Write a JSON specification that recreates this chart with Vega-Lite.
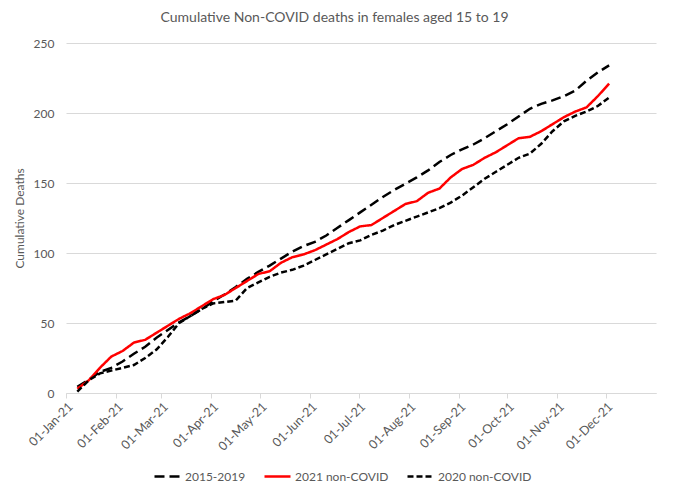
{
  "$schema": "https://vega.github.io/schema/vega-lite/v6.json",
  "width": 590,
  "height": 350,
  "autosize": {"type": "none"},
  "padding": {"left": 66, "top": 43, "right": 24, "bottom": 101},
  "background": "white",
  "title": {
    "text": "Cumulative Non-COVID deaths in females aged 15 to 19",
    "font": "Lato",
    "fontSize": 14,
    "fontWeight": "normal",
    "color": "#595959",
    "anchor": "middle",
    "frame": "bounds",
    "offset": 12
  },
  "config": {"view": {"stroke": null}},
  "data": {
    "values": [
      {"d": "2021-01-08", "2015-2019": 4.5, "2021 non-COVID": 3, "2020 non-COVID": 1},
      {"d": "2021-01-15", "2015-2019": 9.5, "2021 non-COVID": 9, "2020 non-COVID": 9},
      {"d": "2021-01-22", "2015-2019": 15, "2021 non-COVID": 18, "2020 non-COVID": 14},
      {"d": "2021-01-29", "2015-2019": 18, "2021 non-COVID": 26, "2020 non-COVID": 16},
      {"d": "2021-02-05", "2015-2019": 22.5, "2021 non-COVID": 30, "2020 non-COVID": 18},
      {"d": "2021-02-12", "2015-2019": 28, "2021 non-COVID": 36, "2020 non-COVID": 20},
      {"d": "2021-02-19", "2015-2019": 33, "2021 non-COVID": 38, "2020 non-COVID": 25},
      {"d": "2021-02-26", "2015-2019": 39.5, "2021 non-COVID": 43, "2020 non-COVID": 31},
      {"d": "2021-03-05", "2015-2019": 45, "2021 non-COVID": 48, "2020 non-COVID": 40},
      {"d": "2021-03-12", "2015-2019": 50.5, "2021 non-COVID": 53, "2020 non-COVID": 50},
      {"d": "2021-03-19", "2015-2019": 55, "2021 non-COVID": 57, "2020 non-COVID": 55},
      {"d": "2021-03-26", "2015-2019": 60, "2021 non-COVID": 62, "2020 non-COVID": 60},
      {"d": "2021-04-02", "2015-2019": 65.4, "2021 non-COVID": 67, "2020 non-COVID": 64},
      {"d": "2021-04-09", "2015-2019": 70.4, "2021 non-COVID": 70, "2020 non-COVID": 65},
      {"d": "2021-04-16", "2015-2019": 75.7, "2021 non-COVID": 75, "2020 non-COVID": 66},
      {"d": "2021-04-23", "2015-2019": 81.5, "2021 non-COVID": 80, "2020 non-COVID": 75},
      {"d": "2021-04-30", "2015-2019": 86.5, "2021 non-COVID": 85, "2020 non-COVID": 79},
      {"d": "2021-05-07", "2015-2019": 91, "2021 non-COVID": 87, "2020 non-COVID": 83},
      {"d": "2021-05-14", "2015-2019": 96, "2021 non-COVID": 93, "2020 non-COVID": 86},
      {"d": "2021-05-21", "2015-2019": 101, "2021 non-COVID": 97, "2020 non-COVID": 88},
      {"d": "2021-05-28", "2015-2019": 105, "2021 non-COVID": 99, "2020 non-COVID": 91},
      {"d": "2021-06-04", "2015-2019": 108, "2021 non-COVID": 102, "2020 non-COVID": 95},
      {"d": "2021-06-11", "2015-2019": 112.5, "2021 non-COVID": 106, "2020 non-COVID": 99},
      {"d": "2021-06-18", "2015-2019": 118, "2021 non-COVID": 110, "2020 non-COVID": 103},
      {"d": "2021-06-25", "2015-2019": 123.5, "2021 non-COVID": 115, "2020 non-COVID": 107},
      {"d": "2021-07-02", "2015-2019": 129, "2021 non-COVID": 119, "2020 non-COVID": 109},
      {"d": "2021-07-09", "2015-2019": 134.5, "2021 non-COVID": 120, "2020 non-COVID": 113},
      {"d": "2021-07-16", "2015-2019": 140, "2021 non-COVID": 125, "2020 non-COVID": 116},
      {"d": "2021-07-23", "2015-2019": 145, "2021 non-COVID": 130, "2020 non-COVID": 120},
      {"d": "2021-07-30", "2015-2019": 149.5, "2021 non-COVID": 135, "2020 non-COVID": 123},
      {"d": "2021-08-06", "2015-2019": 154, "2021 non-COVID": 137, "2020 non-COVID": 126},
      {"d": "2021-08-13", "2015-2019": 159, "2021 non-COVID": 143, "2020 non-COVID": 129},
      {"d": "2021-08-20", "2015-2019": 165, "2021 non-COVID": 146, "2020 non-COVID": 132},
      {"d": "2021-08-27", "2015-2019": 170, "2021 non-COVID": 154, "2020 non-COVID": 136},
      {"d": "2021-09-03", "2015-2019": 174, "2021 non-COVID": 160, "2020 non-COVID": 141},
      {"d": "2021-09-10", "2015-2019": 177.5, "2021 non-COVID": 163, "2020 non-COVID": 147},
      {"d": "2021-09-17", "2015-2019": 182, "2021 non-COVID": 168, "2020 non-COVID": 153},
      {"d": "2021-09-24", "2015-2019": 187, "2021 non-COVID": 172, "2020 non-COVID": 158},
      {"d": "2021-10-01", "2015-2019": 192, "2021 non-COVID": 177, "2020 non-COVID": 163},
      {"d": "2021-10-08", "2015-2019": 197.5, "2021 non-COVID": 182, "2020 non-COVID": 168},
      {"d": "2021-10-15", "2015-2019": 203, "2021 non-COVID": 183, "2020 non-COVID": 171},
      {"d": "2021-10-22", "2015-2019": 206.5, "2021 non-COVID": 187, "2020 non-COVID": 178},
      {"d": "2021-10-29", "2015-2019": 209, "2021 non-COVID": 192, "2020 non-COVID": 187},
      {"d": "2021-11-05", "2015-2019": 212, "2021 non-COVID": 197, "2020 non-COVID": 194},
      {"d": "2021-11-12", "2015-2019": 216, "2021 non-COVID": 201, "2020 non-COVID": 198},
      {"d": "2021-11-19", "2015-2019": 223, "2021 non-COVID": 204, "2020 non-COVID": 201},
      {"d": "2021-11-26", "2015-2019": 229, "2021 non-COVID": 212, "2020 non-COVID": 205},
      {"d": "2021-12-03", "2015-2019": 234, "2021 non-COVID": 221, "2020 non-COVID": 211}
    ]
  },
  "transform": [
    {"fold": ["2015-2019", "2021 non-COVID", "2020 non-COVID"], "as": ["series", "deaths"]}
  ],
  "mark": {"type": "line", "strokeWidth": 2.5, "strokeCap": "butt"},
  "encoding": {
    "x": {
      "field": "d",
      "type": "temporal",
      "scale": {
        "type": "utc",
        "domain": [
          {"year": 2021, "month": 1, "date": 1, "utc": true},
          {"year": 2022, "month": 1, "date": 1, "utc": true}
        ]
      },
      "axis": {
        "title": null,
        "format": "%d-%b-%y",
        "values": [
          {"year": 2021, "month": 1, "date": 1, "utc": true},
          {"year": 2021, "month": 2, "date": 1, "utc": true},
          {"year": 2021, "month": 3, "date": 1, "utc": true},
          {"year": 2021, "month": 4, "date": 1, "utc": true},
          {"year": 2021, "month": 5, "date": 1, "utc": true},
          {"year": 2021, "month": 6, "date": 1, "utc": true},
          {"year": 2021, "month": 7, "date": 1, "utc": true},
          {"year": 2021, "month": 8, "date": 1, "utc": true},
          {"year": 2021, "month": 9, "date": 1, "utc": true},
          {"year": 2021, "month": 10, "date": 1, "utc": true},
          {"year": 2021, "month": 11, "date": 1, "utc": true},
          {"year": 2021, "month": 12, "date": 1, "utc": true}
        ],
        "labelAngle": -45,
        "labelOverlap": false,
        "labelFont": "Lato",
        "labelFontSize": 12.5,
        "labelColor": "#595959",
        "labelPadding": 2,
        "domainColor": "#d9d9d9",
        "domainWidth": 1,
        "tickColor": "#d9d9d9",
        "tickSize": 5,
        "grid": false
      }
    },
    "y": {
      "field": "deaths",
      "type": "quantitative",
      "scale": {"domain": [0, 250], "nice": false},
      "axis": {
        "title": "Cumulative Deaths",
        "titleFont": "Lato",
        "titleFontSize": 12,
        "titleFontWeight": "normal",
        "titleColor": "#595959",
        "titlePadding": 7,
        "values": [0, 50, 100, 150, 200, 250],
        "labelFont": "Lato",
        "labelFontSize": 12,
        "labelColor": "#595959",
        "labelPadding": 12,
        "domain": false,
        "ticks": false,
        "gridColor": "#d9d9d9",
        "gridWidth": 1
      }
    },
    "color": {
      "field": "series",
      "type": "nominal",
      "scale": {
        "domain": ["2015-2019", "2021 non-COVID", "2020 non-COVID"],
        "range": ["#000000", "#ff0000", "#000000"]
      },
      "legend": {
        "title": null,
        "orient": "none",
        "legendX": 87,
        "legendY": 419,
        "direction": "horizontal",
        "gridAlign": "none",
        "symbolType": "stroke",
        "symbolSize": 676,
        "symbolStrokeWidth": 2.5,
        "labelFont": "Lato",
        "labelFontSize": 12,
        "labelColor": "#595959",
        "labelOffset": 3,
        "columnPadding": 13
      }
    },
    "strokeDash": {
      "field": "series",
      "type": "nominal",
      "scale": {
        "domain": ["2015-2019", "2021 non-COVID", "2020 non-COVID"],
        "range": [[10, 5], [1, 0], [6, 3]]
      },
      "legend": {
        "title": null,
        "orient": "none",
        "legendX": 87,
        "legendY": 419,
        "direction": "horizontal",
        "gridAlign": "none",
        "symbolType": "stroke",
        "symbolSize": 676,
        "symbolStrokeWidth": 2.5,
        "labelFont": "Lato",
        "labelFontSize": 12,
        "labelColor": "#595959",
        "labelOffset": 3,
        "columnPadding": 13
      }
    }
  }
}
